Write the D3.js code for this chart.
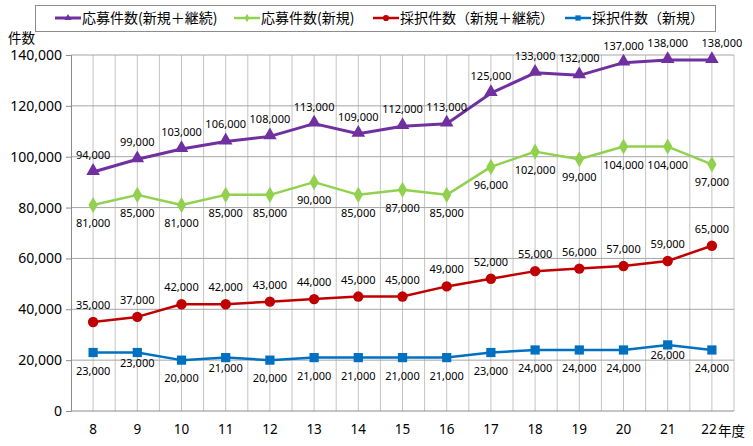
<!DOCTYPE html>
<html>
<head>
<meta charset="utf-8">
<script src="https://cdn.jsdelivr.net/npm/d3@7"></script>
<style>
  html, body { margin: 0; padding: 0; background: #fff; }
  svg { display: block; }
  text { font-family: "Segoe UI", "Noto Sans", "Noto Sans CJK JP", sans-serif; fill: #000; }
  .jp { font-family: "Noto Sans CJK JP", sans-serif; }
</style>
</head>
<body>
<svg id="chart" width="753" height="446"></svg>
<script>
// fiscal years (平成)
const years = ['8', '9', '10', '11', '12', '13', '14', '15', '16', '17', '18', '19', '20', '21', '22']

const applyAll = [94000, 99000, 103000, 106000, 108000, 113000, 109000, 112000, 113000, 125000, 133000, 132000, 137000, 138000, 138000]
const applyNew = [81000, 85000, 81000, 85000, 85000, 90000, 85000, 87000, 85000, 96000, 102000, 99000, 104000, 104000, 97000]
const adoptAll = [35000, 37000, 42000, 42000, 43000, 44000, 45000, 45000, 49000, 52000, 55000, 56000, 57000, 59000, 65000]
const adoptNew = [23000, 23000, 20000, 21000, 20000, 21000, 21000, 21000, 21000, 23000, 24000, 24000, 24000, 26000, 24000]

const yTicks = [0, 20000, 40000, 60000, 80000, 100000, 120000, 140000]

const seriesNames = ['応募件数(新規＋継続)', '応募件数(新規)', '採択件数（新規＋継続）', '採択件数（新規）']

const series = [
  { name: seriesNames[0], values: applyAll, color: '#7030A0', width: 3, symbol: d3.symbolTriangle, size: 80, legendSize: 22, label: 'above' },
  { name: seriesNames[1], values: applyNew, color: '#92D050', width: 2.5, symbol: d3.symbolDiamond, size: 75, legendSize: 20, label: 'below' },
  { name: seriesNames[2], values: adoptAll, color: '#C00000', width: 2.5, symbol: d3.symbolCircle, size: 85, legendSize: 30, label: 'above' },
  { name: seriesNames[3], values: adoptNew, color: '#0070C0', width: 2.5, symbol: d3.symbolSquare, size: 85, legendSize: 28, label: 'below' }
]

const svg = d3.select('#chart')
const margin = { left: 71, right: 19, top: 55, bottom: 35 }
const width = 753, height = 446

const x = d3.scaleBand()
  .domain(years)
  .range([margin.left, width - margin.right])

const y = d3.scaleLinear()
  .domain([0, 140000])
  .range([height - margin.bottom, margin.top])

const cx = d => x(d) + x.bandwidth() / 2
const fmt = d3.format(',')
const last = years[years.length - 1]

// ------------------
// Gridlines
// ------------------
const vLines = []
years.forEach(d => { vLines.push(x(d)); vLines.push(cx(d)) })
vLines.push(x(last) + x.bandwidth())

svg.append('g')
  .selectAll('line')
  .data(vLines.slice(1))
  .join('line')
  .attr('x1', d => d).attr('x2', d => d)
  .attr('y1', y(140000)).attr('y2', y(0))
  .attr('stroke', '#c4c4c4')
  .attr('stroke-width', 1)

svg.append('g')
  .selectAll('line')
  .data(yTicks.slice(1))
  .join('line')
  .attr('x1', margin.left).attr('x2', width - margin.right)
  .attr('y1', d => y(d)).attr('y2', d => y(d))
  .attr('stroke', '#a6a6a6')
  .attr('stroke-width', 1)

// ------------------
// Axes
// ------------------
const yAxis = svg.append('g')
  .attr('transform', `translate(${margin.left},0)`)
  .call(d3.axisLeft(y).tickValues(yTicks).tickFormat(fmt).tickSize(5).tickPadding(4))
yAxis.select('.domain').attr('stroke', '#8c8c8c')
yAxis.selectAll('.tick line').attr('stroke', '#8c8c8c')
yAxis.selectAll('.tick text').attr('font-size', 14).attr('fill', '#000')

const xAxis = svg.append('g')
  .attr('transform', `translate(0,${y(0)})`)
  .call(d3.axisBottom(x).tickSize(0).tickPadding(13))
xAxis.select('.domain').attr('stroke', '#8c8c8c').attr('d', `M${margin.left},0H${width - margin.right}`)
xAxis.selectAll('.tick text')
  .attr('font-size', 13.5)
  .attr('fill', '#000')
  .attr('dx', d => d === last ? -3 : 0)

svg.append('text')
  .attr('class', 'jp')
  .attr('x', cx(last) + 6)
  .attr('y', y(0) + 25)
  .attr('font-size', 13.5)
  .text('年度')

svg.append('text')
  .attr('class', 'jp')
  .attr('x', 8)
  .attr('y', 43)
  .attr('font-size', 13.5)
  .text('件数')

// ------------------
// Lines, markers, labels
// ------------------
const line = d3.line()
  .x((d, i) => cx(years[i]))
  .y(d => y(d))

series.forEach(s => {
  const g = svg.append('g')
  g.append('path')
    .datum(s.values)
    .attr('fill', 'none')
    .attr('stroke', s.color)
    .attr('stroke-width', s.width)
    .attr('stroke-linejoin', 'round')
    .attr('d', line)

  g.selectAll('path.m')
    .data(s.values)
    .join('path')
    .attr('class', 'm')
    .attr('d', d3.symbol().type(s.symbol).size(s.size))
    .attr('transform', (d, i) => `translate(${cx(years[i])},${y(d) + (s.symbol === d3.symbolTriangle ? -1 : 0)})`)
    .attr('fill', s.color)

  g.selectAll('text')
    .data(s.values)
    .join('text')
    .attr('x', (d, i) => cx(years[i]) + (s === series[0] && i === years.length - 1 ? 10 : 0))
    .attr('y', (d, i) => {
      if (s.label === 'above') return y(d) - 13
      // 26,000 label sits closer to its marker
      if (s === series[3] && d > adoptNew[i + 1]) return y(d) + 14
      return y(d) + 22
    })
    .attr('text-anchor', 'middle')
    .attr('font-size', 11)
    .text(d => fmt(d))
})

// ------------------
// Legend
// ------------------
svg.append('rect')
  .attr('x', 35.5).attr('y', 5.5)
  .attr('width', 680).attr('height', 26)
  .attr('fill', '#fff')
  .attr('stroke', '#8c8c8c')

const legendX = [55, 234, 373, 565]
const legend = svg.append('g')
series.forEach((s, i) => {
  const lg = legend.append('g').attr('transform', `translate(${legendX[i]},18)`)
  lg.append('line')
    .attr('x1', 0).attr('x2', 26)
    .attr('stroke', s.color).attr('stroke-width', s.width)
  lg.append('path')
    .attr('d', d3.symbol().type(s.symbol).size(s.legendSize))
    .attr('transform', 'translate(13,0)')
    .attr('fill', s.color)
  lg.append('text')
    .attr('class', 'jp')
    .attr('x', 27)
    .attr('y', 5)
    .attr('font-size', 14)
    .text(s.name)
})
</script>
</body>
</html>
